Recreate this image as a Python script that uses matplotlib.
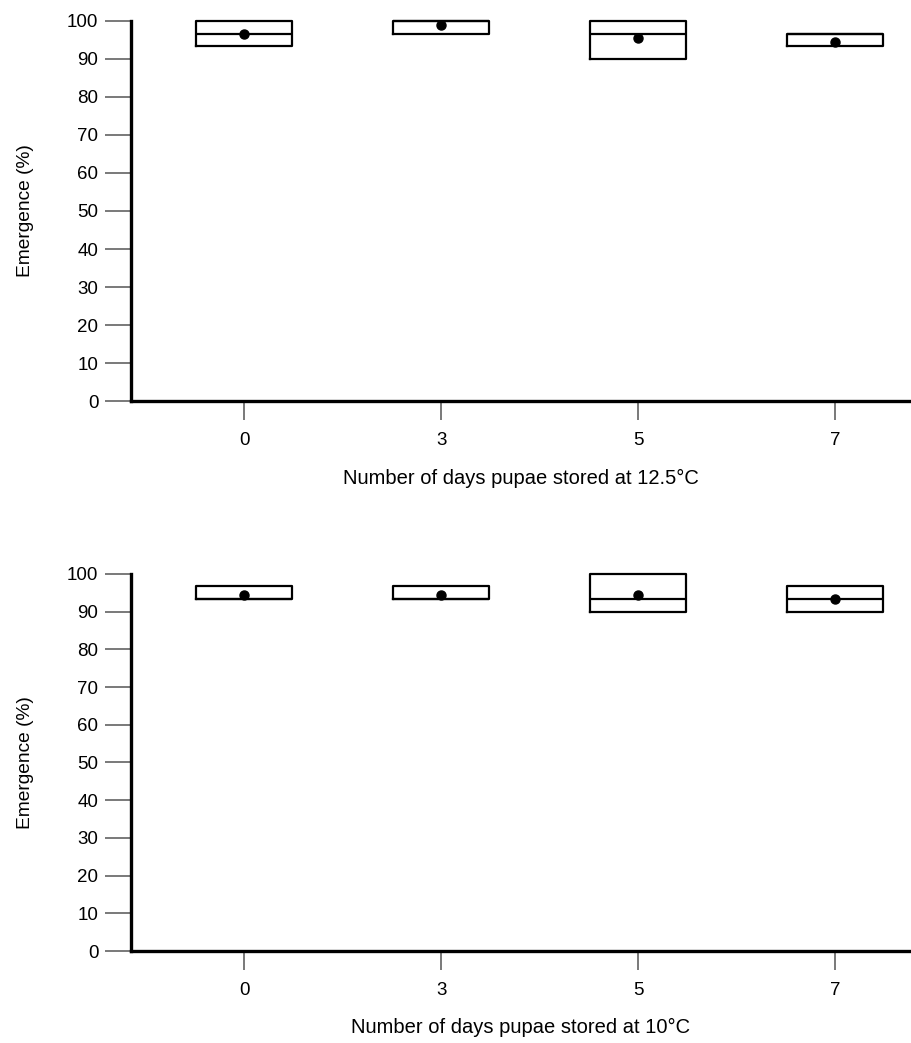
import matplotlib.pyplot as plt

plt.rcParams['font.family'] = ['Liberation Sans', 'DejaVu Sans']

days = ['0', '3', '5', '7']

# storage at 12.5 C
q1_125 = [93.3, 96.7, 90.0, 93.3]
med_125 = [96.7, 100.0, 96.7, 96.7]
q3_125 = [100.0, 100.0, 100.0, 96.7]
mean_125 = [96.7, 98.9, 95.6, 94.4]

# storage at 10 C
q1_10 = [93.3, 93.3, 90.0, 90.0]
med_10 = [93.3, 93.3, 93.3, 93.3]
q3_10 = [96.7, 96.7, 100.0, 96.7]
mean_10 = [94.4, 94.4, 94.4, 93.3]

yticks = list(range(0, 101, 10))


def draw_panel(ax, q1, med, q3, mean, xlabel):
    stats = []
    for a, m, b, mu in zip(q1, med, q3, mean):
        stats.append(dict(q1=a, med=m, q3=b, mean=mu, whislo=a, whishi=b, fliers=[]))
    pos = list(range(len(days)))
    arts = ax.bxp(stats, positions=pos, widths=0.49, showmeans=True, showcaps=False,
                  boxprops=dict(color='black', linewidth=1.6),
                  medianprops=dict(color='black', linewidth=1.6),
                  whiskerprops=dict(linewidth=0),
                  meanprops=dict(marker='o', markerfacecolor='black',
                                 markeredgecolor='black', markersize=6.5))
    for group in arts.values():
        for a in group:
            a.set_clip_on(False)
    ax.set_xlim(-0.574, 3.386)
    ax.set_ylim(0, 100)
    ax.set_xticks(pos)
    ax.set_xticklabels(days)
    ax.set_yticks(yticks)
    for s in ['top', 'right']:
        ax.spines[s].set_visible(False)
    for s in ['left', 'bottom']:
        ax.spines[s].set_linewidth(2.4)
    ax.tick_params(axis='y', length=18.5, width=1.1, color='#555555', pad=5, labelsize=13.5)
    ax.tick_params(axis='x', length=14, width=1.1, color='#555555', pad=8, labelsize=13.5)
    ax.set_xlabel(xlabel, fontsize=14.5)
    ax.set_ylabel('Emergence (%)', fontsize=13.8)
    ax.xaxis.set_label_coords(0.5, -0.178)
    ax.yaxis.set_label_coords(-0.124, 0.5)


fig = plt.figure(figsize=(9.11, 10.43), dpi=100)
ax1 = fig.add_axes([0.1438, 0.6155, 0.8562, 0.3644])
ax2 = fig.add_axes([0.1438, 0.0882, 0.8562, 0.3615])

draw_panel(ax1, q1_125, med_125, q3_125, mean_125, 'Number of days pupae stored at 12.5°C')
draw_panel(ax2, q1_10, med_10, q3_10, mean_10, 'Number of days pupae stored at 10°C')

fig.savefig('out.png', dpi=100)
